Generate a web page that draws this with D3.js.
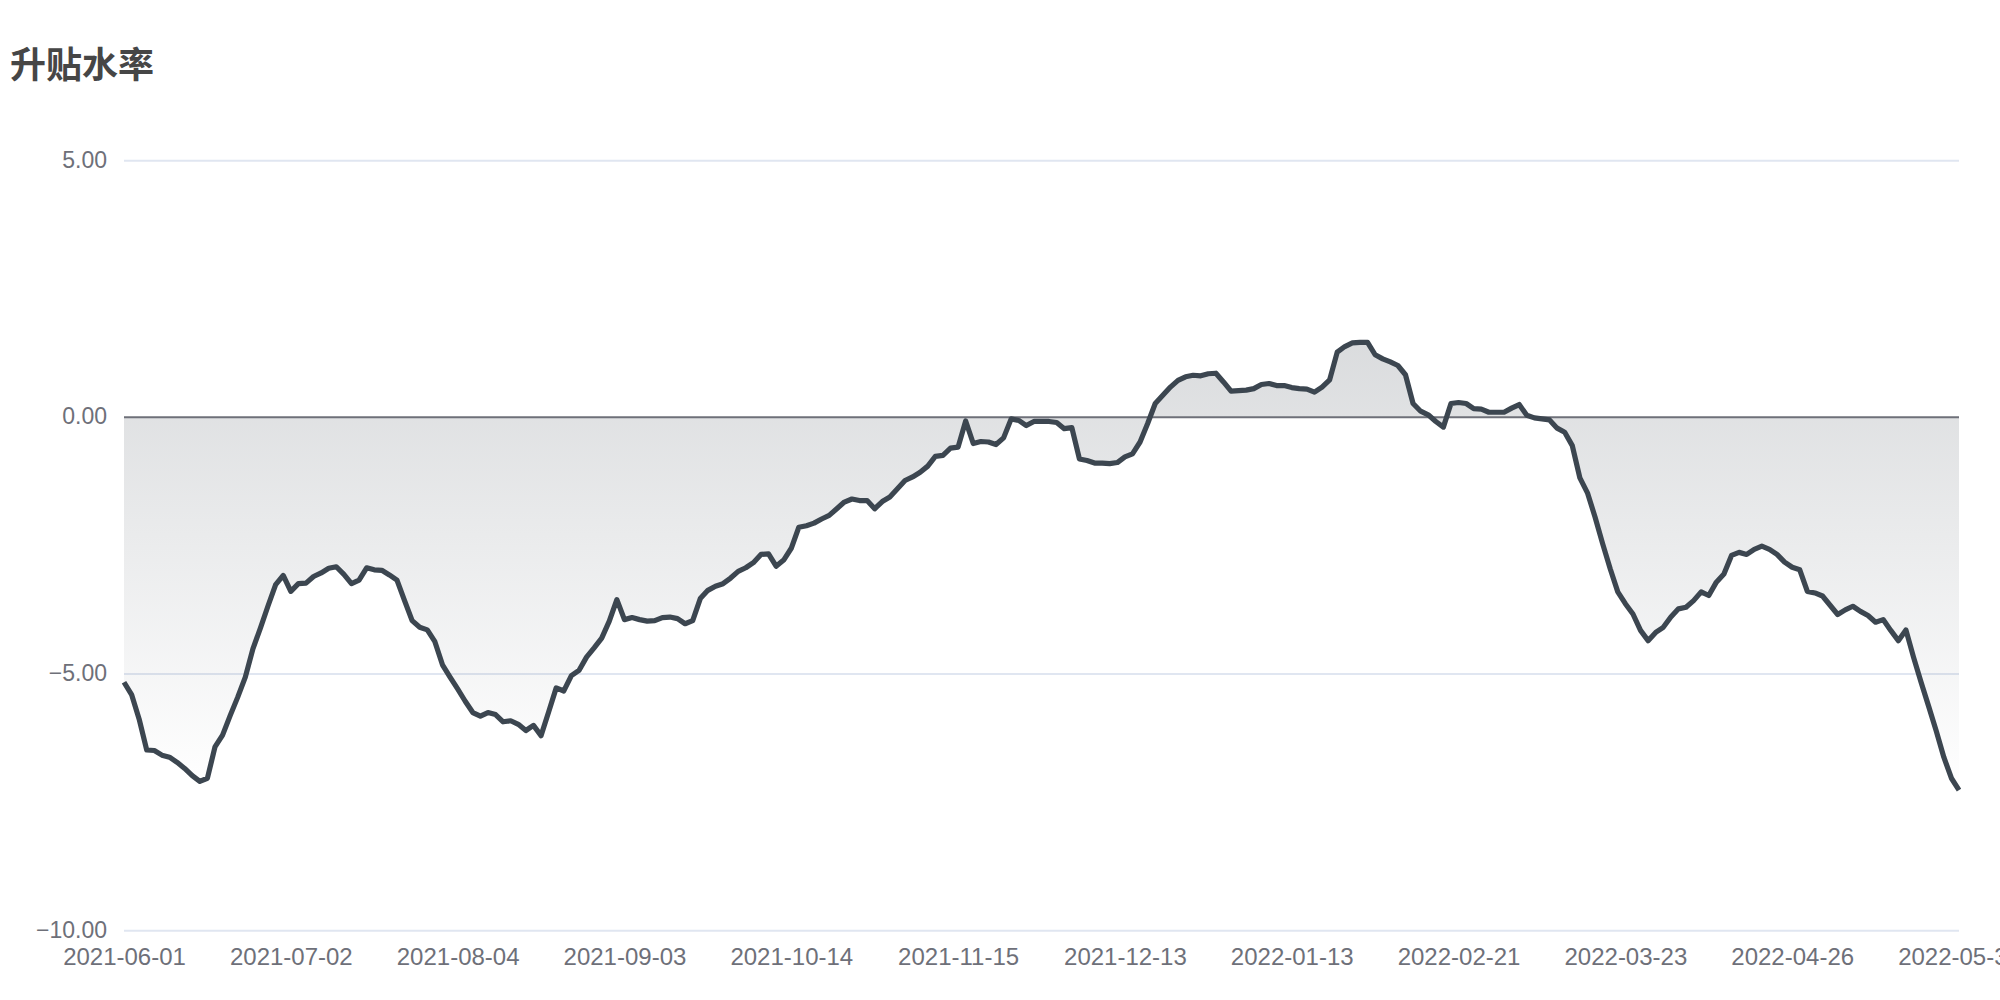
<!DOCTYPE html>
<html>
<head>
<meta charset="utf-8">
<script src="https://cdn.jsdelivr.net/npm/d3@7/dist/d3.min.js"></script>
<style>
  html, body { margin: 0; padding: 0; background: #ffffff; }
  svg { display: block; }
</style>
</head>
<body>
<svg id="chart" width="2000" height="1000"></svg>
<script>
// ---- data ----
const title = "升贴水率";
const tickLabels = ["2021-06-01","2021-07-02","2021-08-04","2021-09-03","2021-10-14","2021-11-15",
                    "2021-12-13","2022-01-13","2022-02-21","2022-03-23","2022-04-26","2022-05-31"];
const labelEvery = 22;
const yTicks = [5, 0, -5, -10];
const values = [
 -5.16,-5.40,-5.88,-6.48,-6.49,-6.58,-6.62,-6.72,-6.84,-6.98,
 -7.09,-7.03,-6.42,-6.19,-5.81,-5.45,-5.06,-4.51,-4.10,-3.67,
 -3.26,-3.08,-3.39,-3.24,-3.23,-3.10,-3.03,-2.94,-2.91,-3.06,
 -3.24,-3.17,-2.93,-2.97,-2.98,-3.07,-3.17,-3.57,-3.96,-4.09,
 -4.14,-4.37,-4.82,-5.06,-5.29,-5.53,-5.75,-5.82,-5.75,-5.79,
 -5.93,-5.91,-5.98,-6.10,-6.00,-6.20,-5.74,-5.27,-5.33,-5.03,
 -4.93,-4.67,-4.49,-4.30,-3.97,-3.55,-3.94,-3.90,-3.94,-3.97,
 -3.96,-3.90,-3.89,-3.92,-4.02,-3.96,-3.53,-3.37,-3.29,-3.24,
 -3.13,-3.00,-2.93,-2.83,-2.67,-2.66,-2.90,-2.78,-2.55,-2.14,
 -2.11,-2.06,-1.98,-1.91,-1.78,-1.65,-1.59,-1.62,-1.62,-1.78,
 -1.64,-1.55,-1.39,-1.23,-1.16,-1.07,-0.95,-0.76,-0.74,-0.60,
 -0.58,-0.07,-0.51,-0.47,-0.48,-0.53,-0.40,-0.03,-0.06,-0.16,
 -0.08,-0.08,-0.08,-0.10,-0.22,-0.20,-0.81,-0.84,-0.89,-0.89,
 -0.90,-0.88,-0.77,-0.71,-0.48,-0.12, 0.27, 0.43, 0.59, 0.72,
  0.79, 0.82, 0.81, 0.85, 0.86, 0.69, 0.51, 0.52, 0.53, 0.56,
  0.64, 0.66, 0.62, 0.62, 0.58, 0.56, 0.55, 0.49, 0.59, 0.73,
  1.27, 1.38, 1.45, 1.46, 1.46, 1.22, 1.14, 1.08, 1.01, 0.83,
  0.27, 0.12, 0.05,-0.08,-0.19, 0.27, 0.29, 0.27, 0.17, 0.16,
  0.10, 0.10, 0.10, 0.18, 0.25, 0.04,-0.01,-0.03,-0.05,-0.21,
 -0.29,-0.55,-1.18,-1.47,-1.94,-2.46,-2.95,-3.40,-3.63,-3.83,
 -4.15,-4.35,-4.19,-4.09,-3.89,-3.73,-3.70,-3.57,-3.40,-3.47,
 -3.21,-3.05,-2.69,-2.63,-2.67,-2.57,-2.51,-2.57,-2.67,-2.82,
 -2.92,-2.97,-3.39,-3.42,-3.48,-3.66,-3.84,-3.75,-3.68,-3.78,
 -3.86,-3.99,-3.94,-4.15,-4.35,-4.14,-4.67,-5.16,-5.63,-6.11,
 -6.62,-7.03,-7.26
];

// ---- layout ----
const W = 2000, H = 1000;
const plot = { left: 124, right: 1959, top: 160.7, bottom: 930.7 };
const svg = d3.select("#chart");

const x = d3.scalePoint()
  .domain(d3.range(values.length))
  .range([plot.left, plot.right]);
const y = d3.scaleLinear()
  .domain([-10, 5])
  .range([plot.bottom, plot.top]);

// gradient
const defs = svg.append("defs");
const grad = defs.append("linearGradient")
  .attr("id", "areaGrad").attr("x1", 0).attr("y1", 0).attr("x2", 0).attr("y2", 1);
grad.append("stop").attr("offset", "0%").attr("stop-color", "rgb(61,70,80)").attr("stop-opacity", 0.19);
grad.append("stop").attr("offset", "100%").attr("stop-color", "rgb(61,70,80)").attr("stop-opacity", 0.0);

// title
svg.append("text")
  .attr("x", 10).attr("y", 78)
  .attr("font-family", "'Noto Sans CJK SC', 'Noto Sans', sans-serif")
  .attr("font-size", 36).attr("font-weight", "bold")
  .attr("fill", "#464646")
  .text(title);

// gridlines
svg.append("g").selectAll("line")
  .data(yTicks.filter(d => d !== 0))
  .join("line")
  .attr("x1", plot.left).attr("x2", plot.right)
  .attr("y1", d => y(d)).attr("y2", d => y(d))
  .attr("stroke", "#E0E6F1").attr("stroke-width", 2);

// y axis labels
const yAxis = d3.axisLeft(y).tickValues(yTicks).tickSize(0).tickPadding(17)
  .tickFormat(d => d3.format(".2f")(d));
const gy = svg.append("g").attr("transform", `translate(${plot.left},0)`).call(yAxis);
gy.select(".domain").remove();
gy.selectAll("text")
  .attr("font-family", "'Liberation Sans', Arial, sans-serif")
  .attr("font-size", 23).attr("fill", "#6E7079")
  .attr("dy", "0.28em");

// x axis labels
const tickIdx = d3.range(0, values.length, labelEvery);
const xAxis = d3.axisBottom(x).tickValues(tickIdx).tickSize(0).tickPadding(0)
  .tickFormat(i => tickLabels[i / labelEvery]);
const gx = svg.append("g").attr("transform", `translate(0,${plot.bottom})`).call(xAxis);
gx.select(".domain").remove();
gx.selectAll("text")
  .attr("font-family", "'Liberation Sans', Arial, sans-serif")
  .attr("font-size", 24).attr("fill", "#6E7079")
  .attr("y", 34).attr("dy", 0);

// area
const area = d3.area()
  .x((d, i) => x(i))
  .y0(y(0))
  .y1(d => y(d));
svg.append("path")
  .datum(values)
  .attr("d", area)
  .attr("fill", "url(#areaGrad)");

// zero line
svg.append("line")
  .attr("x1", plot.left).attr("x2", plot.right)
  .attr("y1", y(0)).attr("y2", y(0))
  .attr("stroke", "#6E7079").attr("stroke-width", 2);

// line
const line = d3.line()
  .x((d, i) => x(i))
  .y(d => y(d));
svg.append("path")
  .datum(values)
  .attr("d", line)
  .attr("fill", "none")
  .attr("stroke", "#3c4650")
  .attr("stroke-width", 5.2)
  .attr("stroke-linejoin", "round")
  .attr("stroke-linecap", "butt");
</script>
</body>
</html>
